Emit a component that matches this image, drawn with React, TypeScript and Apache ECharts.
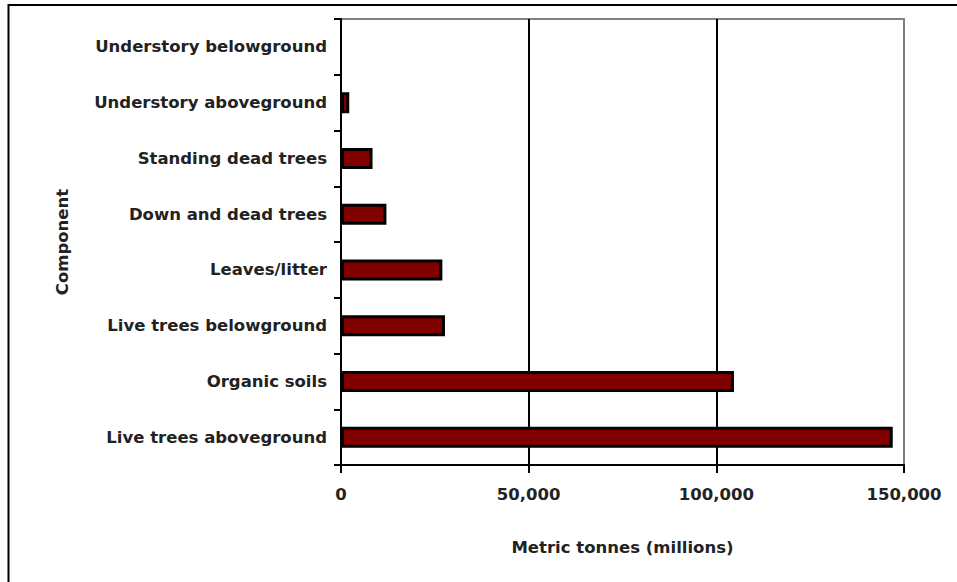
import React, { useEffect, useRef } from "react";
import * as echarts from "echarts";

const categories = [
  "Live trees aboveground",
  "Organic soils",
  "Live trees belowground",
  "Leaves/litter",
  "Down and dead trees",
  "Standing dead trees",
  "Understory aboveground",
  "Understory belowground",
];
const values = [147000, 104700, 27700, 27000, 12100, 8400, 2200, 0];
const xTicks = { min: 0, max: 150000, interval: 50000 };
const xAxisTitle = "Metric tonnes (millions)";
const yAxisTitle = "Component";

const FONT = "DejaVu Sans";

export default function App() {
  const ref = useRef<HTMLDivElement>(null);
  useEffect(() => {
    if (!ref.current) return;
    const chart = echarts.init(ref.current, undefined, { renderer: "svg" });
    const textStyle = {
      fontFamily: FONT,
      fontSize: 16.5,
      fontWeight: "bold" as const,
      color: "#222",
    };
    chart.setOption({
      animation: false,
      backgroundColor: "#fff",
      graphic: [
        {
          type: "rect",
          shape: { x: 8.5, y: 5, width: 1200, height: 1200 },
          style: { fill: "none", stroke: "#000", lineWidth: 2 },
          silent: true,
        },
      ],
      grid: {
        left: 341,
        right: 53,
        top: 19,
        bottom: 117,
        show: true,
        borderColor: "#808080",
        borderWidth: 2,
        backgroundColor: "transparent",
      },
      xAxis: {
        type: "value",
        min: xTicks.min,
        max: xTicks.max,
        interval: xTicks.interval,
        name: xAxisTitle,
        nameLocation: "middle",
        nameGap: 74,
        nameTextStyle: textStyle,
        axisLine: { show: true, lineStyle: { color: "#000", width: 2 } },
        axisTick: { show: true, length: 8, lineStyle: { color: "#000", width: 2 } },
        axisLabel: {
          ...textStyle,
          margin: 21,
          formatter: (v: number) => v.toLocaleString("en-US"),
        },
        splitLine: {
          show: true,
          showMinLine: false,
          showMaxLine: false,
          lineStyle: { color: "#000", width: 2 },
        },
      },
      yAxis: {
        type: "category",
        data: categories,
        name: yAxisTitle,
        nameLocation: "middle",
        nameGap: 270,
        nameTextStyle: textStyle,
        axisLine: { show: true, lineStyle: { color: "#000", width: 2 } },
        axisTick: { show: true, length: 7, lineStyle: { color: "#000", width: 2 } },
        axisLabel: { ...textStyle, margin: 14 },
        splitLine: { show: false },
      },
      series: [
        {
          type: "bar",
          data: values.map((v) =>
            v === 0 ? { value: v, itemStyle: { borderWidth: 0 } } : v
          ),
          barWidth: 21,
          itemStyle: { color: "#800000", borderColor: "#000", borderWidth: 3 },
          z: 3,
        },
      ],
    });
    return () => chart.dispose();
  }, []);
  return (
    <div
      ref={ref}
      style={{ position: "absolute", left: 0, top: 0, width: 957, height: 582 }}
    />
  );
}
